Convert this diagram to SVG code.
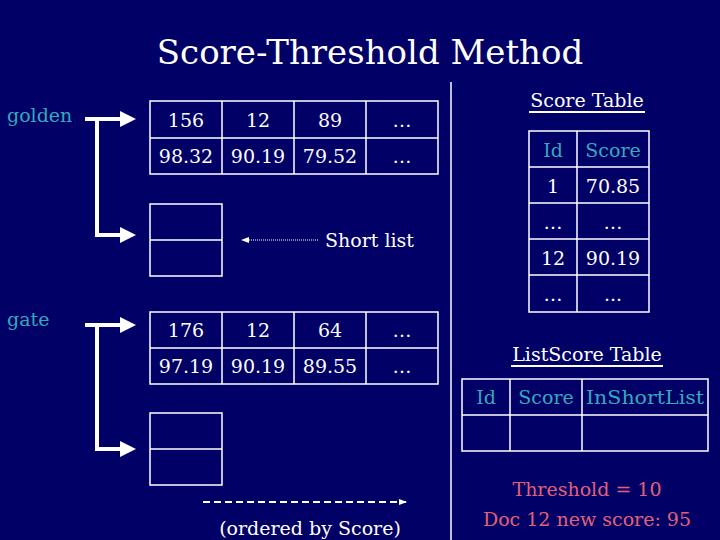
<svg xmlns="http://www.w3.org/2000/svg" width="720" height="540" viewBox="0 0 720 540">
<style>
text{font-family:"DejaVu Serif","Liberation Serif",serif;font-size:19px;fill:#fff}
.c{text-anchor:middle}
.t{fill:#33aabb}
.r{fill:#e0607a}
.cell{fill:none;stroke:#fff;stroke-width:1.5}
.w{fill:none;stroke:#fff;stroke-width:4}
</style>
<defs>
<marker id="ah" markerWidth="4" markerHeight="4" refX="2" refY="2" orient="auto" markerUnits="strokeWidth"><path d="M0,0L4,2L0,4z" fill="#fff"/></marker>
<marker id="sm" markerWidth="8" markerHeight="6" refX="7" refY="3" orient="auto" markerUnits="userSpaceOnUse"><path d="M0,0L8,3L0,6z" fill="#fff"/></marker>
</defs>
<rect width="720" height="540" fill="#000066"/>
<text x="370" y="64" class="c" style="font-size:34px">Score-Threshold Method</text>
<line x1="451" y1="82" x2="451" y2="540" stroke="#fff" stroke-width="1.5"/>
<g id="golden"><text x="7" y="122" class="t">golden</text></g>
<g id="golden-table">
<rect class="cell" x="150" y="101" width="288" height="73"/>
<path class="cell" d="M150,138H438M222,101V174M294,101V174M366,101V174"/>
<text x="186" y="127" class="c">156</text><text x="258" y="127" class="c">12</text><text x="330" y="127" class="c">89</text><text x="402" y="127" class="c">…</text>
<text x="186" y="163" class="c">98.32</text><text x="258" y="163" class="c">90.19</text><text x="330" y="163" class="c">79.52</text><text x="402" y="163" class="c">…</text>
</g>
<g id="golden-short"><rect class="cell" x="150" y="204" width="72" height="72"/><path class="cell" d="M150,240H222"/></g>
<g id="short-label"><text x="325" y="247">Short list</text></g>
<g id="gate"><text x="7" y="326" class="t">gate</text></g>
<g id="gate-table">
<rect class="cell" x="150" y="312" width="288" height="72"/>
<path class="cell" d="M150,348H438M222,312V384M294,312V384M366,312V384"/>
<text x="186" y="337" class="c">176</text><text x="258" y="337" class="c">12</text><text x="330" y="337" class="c">64</text><text x="402" y="337" class="c">…</text>
<text x="186" y="373" class="c">97.19</text><text x="258" y="373" class="c">90.19</text><text x="330" y="373" class="c">89.55</text><text x="402" y="373" class="c">…</text>
</g>
<g id="gate-short"><rect class="cell" x="150" y="413" width="72" height="72"/><path class="cell" d="M150,449H222"/></g>
<g id="order-label"><text x="310" y="535" class="c">(ordered by Score)</text></g>
<g id="score-table">
<text x="587" y="107" class="c">Score Table</text>
<line x1="529" y1="112" x2="645" y2="112" stroke="#fff" stroke-width="2"/>
<rect class="cell" x="529" y="131" width="120" height="181"/>
<path class="cell" d="M529,167H649M529,203H649M529,239H649M529,275H649M577,131V312"/>
<text x="553" y="157" class="c t">Id</text><text x="613" y="157" class="c t">Score</text>
<text x="553" y="193" class="c">1</text><text x="613" y="193" class="c">70.85</text>
<text x="553" y="229" class="c">…</text><text x="613" y="229" class="c">…</text>
<text x="553" y="265" class="c">12</text><text x="613" y="265" class="c">90.19</text>
<text x="553" y="301" class="c">…</text><text x="613" y="301" class="c">...</text>
</g>
<g id="listscore-table">
<text x="587" y="361" class="c">ListScore Table</text>
<line x1="511" y1="366" x2="663" y2="366" stroke="#fff" stroke-width="2"/>
<rect class="cell" x="462" y="379" width="246" height="72"/>
<path class="cell" d="M462,415H708M510,379V451M582,379V451"/>
<text x="486" y="404" class="c t">Id</text><text x="546" y="404" class="c t">Score</text><text x="645" y="404" class="c t" textLength="118" lengthAdjust="spacingAndGlyphs">InShortList</text>
</g>
<g id="note"><text x="587" y="496" class="c r">Threshold = 10</text><text x="587" y="526" class="c r">Doc 12 new score: 95</text></g>
<g id="connectors">
<path class="w" d="M85,119H128" marker-end="url(#ah)"/>
<path class="w" d="M97,119V235H128" marker-end="url(#ah)"/>
<path class="w" d="M85,325H128" marker-end="url(#ah)"/>
<path class="w" d="M97,325V449H128" marker-end="url(#ah)"/>
<path d="M318,240H242" stroke="#fff" stroke-width="1" stroke-dasharray="1,1" marker-end="url(#sm)"/>
<path d="M203,502H406" stroke="#fff" stroke-width="2" stroke-dasharray="7,4" marker-end="url(#sm)"/>
</g>
</svg>
